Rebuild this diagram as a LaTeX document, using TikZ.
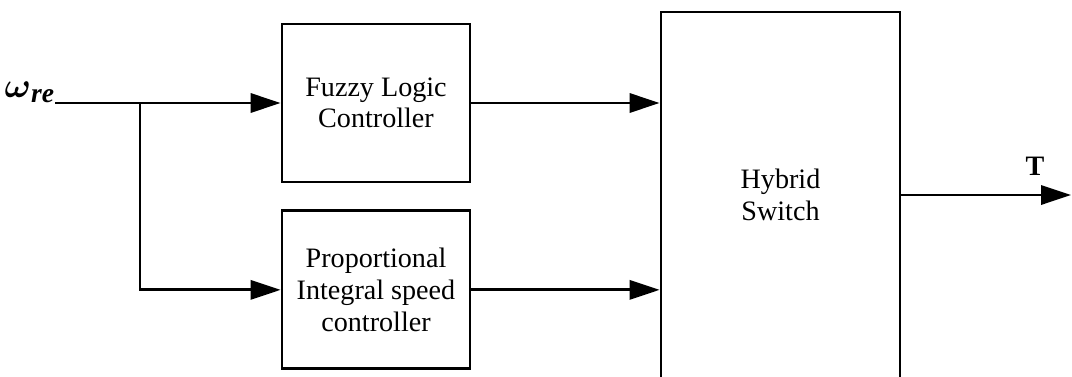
\documentclass[tikz,border=0pt]{standalone}
\usepackage{amsmath}
\usepackage{fontspec}
\setmainfont{Liberation Serif}
\usetikzlibrary{arrows.meta, positioning}

\begin{document}
\begin{tikzpicture}[
  x=0.025cm, y=-0.025cm,
  block/.style={rectangle, draw=black, line width=2pt, minimum width=47mm,
    minimum height=39.5mm, align=center, font=\fontsize{20}{22.5}\selectfont},
  hyb/.style={block, minimum width=59.75mm, minimum height=91.5mm},
  >={Triangle[length=7.5mm, width=4.8mm]},
  arr/.style={draw=black, line width=2pt, ->},
]

% Page frame
\fill[white] (0,0) rectangle (1072,376);
\useasboundingbox (0,0) rectangle (1072,376);

\node[block] (flc) at (376,103) {Fuzzy Logic\\Controller};
\node[block, below=6.5mm of flc] (pic) {Proportional\\Integral speed\\controller};
\node[hyb] (hsw) at (780.5,195) {Hybrid\\Switch};

\coordinate (win) at (55,103);
\coordinate (split) at (140,103);
\coordinate (tout) at (1071,195);

\node[anchor=south east, inner sep=0pt, font=\fontsize{28}{30}\selectfont] (wre) at (win)
  {$\boldsymbol{\omega}_{\textbf{\textit{re}}}$};
\node[font=\bfseries\fontsize{20}{22}\selectfont] (tq) at (1035,166) {T};

\draw[arr] (win) -- (flc);
\draw[arr] (split) |- (pic);
\draw[arr] (flc) -- (flc -| hsw.west);
\draw[arr] (pic) -- (pic -| hsw.west);
\draw[arr] (hsw) -- (tout);
\end{tikzpicture}
\end{document}
